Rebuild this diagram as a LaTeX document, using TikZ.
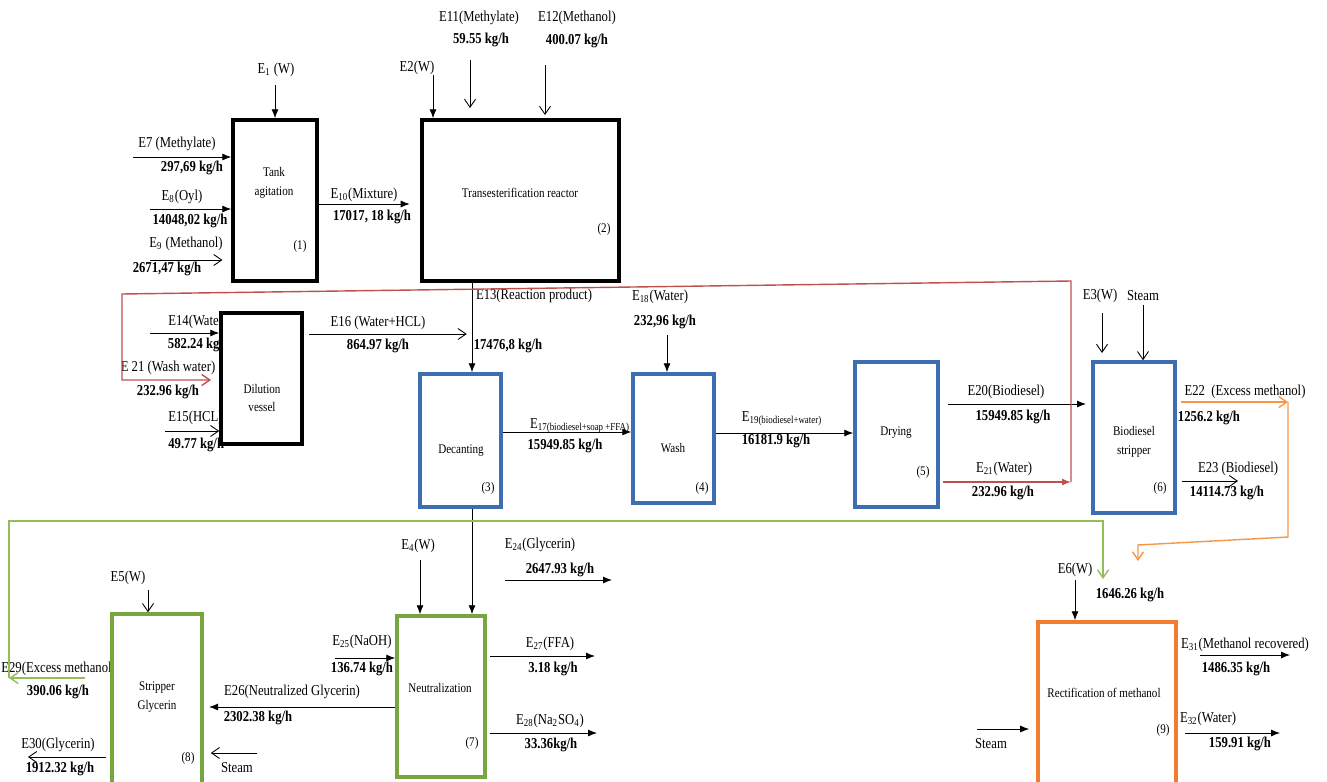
\documentclass[tikz,border=0pt]{standalone}
\usepackage{fontspec}
\setmainfont{Liberation Serif}[FakeStretch=0.84]
\usetikzlibrary{arrows.meta}

\definecolor{unitblue}{RGB}{62,110,176}
\definecolor{unitgreen}{RGB}{119,165,64}
\definecolor{unitorange}{RGB}{240,125,50}
\definecolor{loopred}{RGB}{192,80,77}
\definecolor{loopgreen}{RGB}{146,190,90}
\definecolor{looporange}{RGB}{247,150,70}

\begin{document}
\begin{tikzpicture}[x=0.02cm,y=-0.02cm]
\useasboundingbox (0,0) rectangle (1327,781);

\tikzstyle{lbl}=[inner sep=0pt,font=\fontsize{8.6}{10}\selectfont]
\tikzstyle{val}=[inner sep=0pt,font=\fontsize{8.6}{10}\selectfont\bfseries]
\tikzstyle{unit}=[draw,line width=2pt,fill=white]
\tikzstyle{unittxt}=[inner sep=0pt,align=center,font=\fontsize{7.5}{10.5}\selectfont]
\tikzstyle{flow}=[line width=0.5pt,-{Latex[length=1.8mm,width=1.4mm]}]
\tikzstyle{openflow}=[line width=0.5pt,-{Straight Barb[length=1.6mm,width=2.2mm]}]
\tikzstyle{loop}=[line width=0.8pt]

% Stream labels and flow rates
\node[lbl] (e1lbl) at (276,70) {E\textsubscript{1} (W)};
\node[lbl] (e2lbl) at (417,68) {E2(W)};
\node[lbl] (e11lbl) at (479,18) {E11(Methylate)};
\node[val] (e11val) at (481,40) {59.55 kg/h};
\node[lbl] (e12lbl) at (577,18) {E12(Methanol)};
\node[val] (e12val) at (577,41) {400.07 kg/h};
\node[lbl] (e7lbl) at (177,144) {E7 (Methylate)};
\node[val] (e7val) at (192,168) {297,69 kg/h};
\node[lbl] (e8lbl) at (182,197) {E\textsubscript{8}(Oyl)};
\node[val] (e8val) at (190,221) {14048,02 kg/h};
\node[lbl] (e9lbl) at (186,244) {E\textsubscript{9} (Methanol)};
\node[val] (e9val) at (167,269) {2671,47 kg/h};
\node[lbl] (e10lbl) at (364,195) {E\textsubscript{10}(Mixture)};
\node[val] (e10val) at (372,217) {17017, 18 kg/h};
\node[lbl] (e13lbl) at (534,296) {E13(Reaction product)};
\node[val] (e13val) at (508,346) {17476,8 kg/h};
\node[lbl,anchor=west] (e14lbl) at (168,322) {E14(Water)};
\node[val] (e14val) at (199,345) {582.24 kg/h};
\node[lbl] (e21wlbl) at (168,368) {E 21 (Wash water)};
\node[val] (e21wval) at (168,392) {232.96 kg/h};
\node[lbl,anchor=west] (e15lbl) at (168,418) {E15(HCL)};
\node[val,anchor=west] (e15val) at (168,445) {49.77 kg/h};
\node[lbl] (e16lbl) at (378,323) {E16 (Water+HCL)};
\node[val] (e16val) at (378,346) {864.97 kg/h};
\node[lbl] (e18lbl) at (660,297) {E\textsubscript{18}(Water)};
\node[val] (e18val) at (665,322) {232,96 kg/h};
\node[lbl] (e17lbl) at (580,426) {E\textsubscript{17(biodiesel+soap +FFA)}};
\node[val] (e17val) at (565,446) {15949.85 kg/h};
\node[lbl] (e19lbl) at (782,419) {E\textsubscript{19(biodiesel+water)}};
\node[val] (e19val) at (776,441) {16181.9 kg/h};
\node[lbl] (e20lbl) at (1006,392) {E20(Biodiesel)};
\node[val] (e20val) at (1013,417) {15949.85 kg/h};
\node[lbl] (e21lbl) at (1004,469) {E\textsubscript{21}(Water)};
\node[val] (e21val) at (1003,493) {232.96 kg/h};
\node[lbl] (e3lbl) at (1100,296) {E3(W)};
\node[lbl] (steam1) at (1143,296) {Steam};
\node[lbl] (e22lbl) at (1245,392) {E22~~(Excess methanol)};
\node[val] (e22val) at (1209,418) {1256.2 kg/h};
\node[lbl] (e23lbl) at (1238,469) {E23 (Biodiesel)};
\node[val] (e23val) at (1227,493) {14114.73 kg/h};
\node[lbl] (e4lbl) at (418,546) {E\textsubscript{4}(W)};
\node[lbl] (e24lbl) at (540,545) {E\textsubscript{24}(Glycerin)};
\node[val] (e24val) at (560,570) {2647.93 kg/h};
\node[lbl] (e5lbl) at (128,578) {E5(W)};
\node[lbl] (e6lbl) at (1075,570) {E6(W)};
\node[val] (e29mval) at (1130,595) {1646.26 kg/h};
\node[lbl] (e25lbl) at (362,642) {E\textsubscript{25}(NaOH)};
\node[val] (e25val) at (362,669) {136.74 kg/h};
\node[lbl] (e26lbl) at (292,692) {E26(Neutralized Glycerin)};
\node[val] (e26val) at (258,718) {2302.38 kg/h};
\node[lbl] (e27lbl) at (550,644) {E\textsubscript{27}(FFA)};
\node[val] (e27val) at (553,669) {3.18 kg/h};
\node[lbl] (e28lbl) at (550,721) {E\textsubscript{28}(Na\textsubscript{2}SO\textsubscript{4})};
\node[val] (e28val) at (551,745) {33.36kg/h};
\node[lbl,anchor=west] (e29lbl) at (1,669) {E29(Excess methanol)};
\node[val] (e29val) at (58,692) {390.06 kg/h};
\node[lbl] (e30lbl) at (58,745) {E30(Glycerin)};
\node[val] (e30val) at (60,769) {1912.32 kg/h};
\node[lbl] (steam2) at (237,768) {Steam};
\node[lbl] (e31lbl) at (1245,645) {E\textsubscript{31}(Methanol recovered)};
\node[val] (e31val) at (1236,669) {1486.35 kg/h};
\node[lbl] (e32lbl) at (1208,719) {E\textsubscript{32}(Water)};
\node[val] (e32val) at (1240,744) {159.91 kg/h};
\node[lbl] (steam3) at (991,744) {Steam};

% Process units
\node[unit,minimum width=1.68cm,minimum height=3.22cm] (tank) at (275,200.5) {};
\node[unit,minimum width=3.94cm,minimum height=3.22cm] (reactor) at (520.5,200.5) {};
\node[unit,minimum width=1.62cm,minimum height=2.62cm] (dilution) at (261.5,378.5) {};
\node[unit,draw=unitblue,minimum width=1.62cm,minimum height=2.66cm] (decanting) at (460.5,440.5) {};
\node[unit,draw=unitblue,minimum width=1.62cm,minimum height=2.58cm] (wash) at (673.5,438.5) {};
\node[unit,draw=unitblue,minimum width=1.66cm,minimum height=2.9cm] (drying) at (896.5,434.5) {};
\node[unit,draw=unitblue,minimum width=1.64cm,minimum height=3.02cm] (bstripper) at (1134,437.5) {};
\node[unit,draw=unitgreen,minimum width=1.76cm,minimum height=3.22cm] (neutral) at (441,696.5) {};
\node[unit,draw=unitgreen,minimum width=1.8cm,minimum height=3.52cm] (gstripper) at (157,702) {};
\node[unit,draw=unitorange,minimum width=2.76cm,minimum height=3.26cm] (rectif) at (1107,703.5) {};

\node[unittxt] (tanktxt) at (274,183) {Tank\\agitation};
\node[unittxt] (reactortxt) at (520,193) {Transesterification reactor};
\node[unittxt] (dilutiontxt) at (262,398) {Dilution\\vessel};
\node[unittxt] (decantingtxt) at (461,451) {Decanting};
\node[unittxt] (washtxt) at (673,448) {Wash};
\node[unittxt] (dryingtxt) at (896,433) {Drying};
\node[unittxt] (bstrippertxt) at (1134,442) {Biodiesel\\stripper};
\node[unittxt] (neutraltxt) at (440,688) {Neutralization};
\node[unittxt] (gstrippertxt) at (157,697) {Stripper\\Glycerin};
\node[unittxt] (rectiftxt) at (1104,693) {Rectification of methanol};

\foreach \n/\x/\y in {1/300/246,2/604/229,3/488/488,4/702/488,5/923/472,6/1160/488,7/472/743,8/188/758,9/1163/730}
  \node[unittxt] (num\n) at (\x,\y) {(\n)};

% Free ends of the streams
\coordinate (e1a) at (275,85);
\coordinate (e2a) at (433,75);
\coordinate (e11a) at (470,60);
\coordinate (e11b) at (470,108);
\coordinate (e12a) at (545,65);
\coordinate (e12b) at (545,115);
\coordinate (e7a) at (133,157);
\coordinate (e8a) at (150,209);
\coordinate (e9a) at (150,260);
\coordinate (e10y) at (0,204);
\coordinate (e13x) at (472,0);
\coordinate (e14a) at (150,333);
\coordinate (e15a) at (165,431);
\coordinate (e16y) at (0,334);
\coordinate (e17y) at (0,432);
\coordinate (e18a) at (667,335);
\coordinate (e19y) at (0,433);
\coordinate (e20a) at (948,404);
\coordinate (e3a) at (1102,313);
\coordinate (e3b) at (1102,353);
\coordinate (steam1a) at (1143,305);
\coordinate (e22a) at (1181,402);
\coordinate (e23y) at (0,481);
\coordinate (e23b) at (1238,481);
\coordinate (e4a) at (420,560);
\coordinate (e24a) at (505,580);
\coordinate (e24b) at (612,580);
\coordinate (e25a) at (335,658);
\coordinate (e26y) at (0,707);
\coordinate (e27y) at (0,656);
\coordinate (e27b) at (595,656);
\coordinate (e28y) at (0,733);
\coordinate (e28b) at (597,733);
\coordinate (e5a) at (148,590);
\coordinate (e30a) at (106,757);
\coordinate (e30b) at (28,757);
\coordinate (steam2a) at (257,753);
\coordinate (e6a) at (1075,580);
\coordinate (e31a) at (1200,655);
\coordinate (e31b) at (1290,655);
\coordinate (e32a) at (1185,733);
\coordinate (e32b) at (1280,733);
\coordinate (steam3a) at (977,729);

% Recycle loops
\coordinate (r1) at (1071,482);
\coordinate (r2) at (1071,281);
\coordinate (r3) at (122,294);
\coordinate (r4) at (122,380);
\coordinate (r5) at (211,380);
\coordinate (g0) at (85,678);
\coordinate (g1) at (9,678);
\coordinate (g2) at (9,521);
\coordinate (g3) at (1103,521);
\coordinate (g4) at (1103,579);
\coordinate (o1) at (1288,402);
\coordinate (o2) at (1288,537);
\coordinate (o3) at (1138,545);
\coordinate (o4) at (1138,561);

% Streams between the units
\draw[flow] (e1a) -- (tank.north);
\draw[flow] (e2a) -- (e2a |- reactor.north);
\draw[openflow] (e11a) -- (e11b);
\draw[openflow] (e12a) -- (e12b);
\draw[flow] (e7a) -- (e7a -| tank.west);
\draw[flow] (e8a) -- (e8a -| tank.west);
\draw[openflow,shorten >=5pt] (e9a) -- (e9a -| tank.west);
\draw[flow,shorten >=6pt] (tank.east |- e10y) -- (reactor.west |- e10y);
\draw[flow] (reactor.south -| e13x) -- (decanting.north -| e13x);
\draw[flow] (e14a) -- (e14a -| dilution.west);
\draw[openflow] (e15a) -- (e15a -| dilution.west);
\draw[openflow,shorten <=3pt,shorten >=3pt] (dilution.east |- e16y) -- (e16y -| e13x);
\draw[flow] (decanting.east |- e17y) -- (wash.west |- e17y);
\draw[flow] (e18a) -- (e18a |- wash.north);
\draw[flow] (wash.east |- e19y) -- (drying.west |- e19y);
\draw[flow,shorten >=3pt] (e20a) -- (e20a -| bstripper.west);
\draw[openflow] (e3a) -- (e3b);
\draw[openflow] (steam1a) -- (steam1a |- bstripper.north);
\draw[openflow,shorten <=3pt] (bstripper.east |- e23y) -- (e23b);
\draw[flow] (decanting.south -| e13x) -- (neutral.north -| e13x);
\draw[flow] (e4a) -- (e4a |- neutral.north);
\draw[flow] (e24a) -- (e24b);
\draw[flow] (e25a) -- (e25a -| neutral.west);
\draw[flow,shorten >=3pt] (neutral.west |- e26y) -- (gstripper.east |- e26y);
\draw[flow,shorten <=2pt] (neutral.east |- e27y) -- (e27b);
\draw[flow,shorten <=2pt] (neutral.east |- e28y) -- (e28b);
\draw[openflow] (e5a) -- (e5a |- gstripper.north);
\draw[openflow] (e30a) -- (e30b);
\draw[openflow,shorten >=4pt] (steam2a) -- (steam2a -| gstripper.east);
\draw[flow] (e6a) -- (e6a |- rectif.north);
\draw[flow] (e31a) -- (e31b);
\draw[flow] (e32a) -- (e32b);
\draw[flow,shorten >=4pt] (steam3a) -- (steam3a -| rectif.west);

% Recycled water, excess methanol
\draw[loopred,flow,loop,shorten <=2pt] (drying.east |- r1) -- (r1);
\draw[loopred,openflow,loop] (r1) -- (r2) -- (r3) -- (r4) -- (r5);
\draw[loopgreen,openflow,loop] (g0) -- (g1);
\draw[loopgreen,openflow,loop] (g1) -- (g2) -- (g3) -- (g4);
\draw[looporange,openflow,loop] (e22a) -- (o1);
\draw[looporange,openflow,loop] (o1) -- (o2) -- (o3) -- (o4);

\end{tikzpicture}
\end{document}
